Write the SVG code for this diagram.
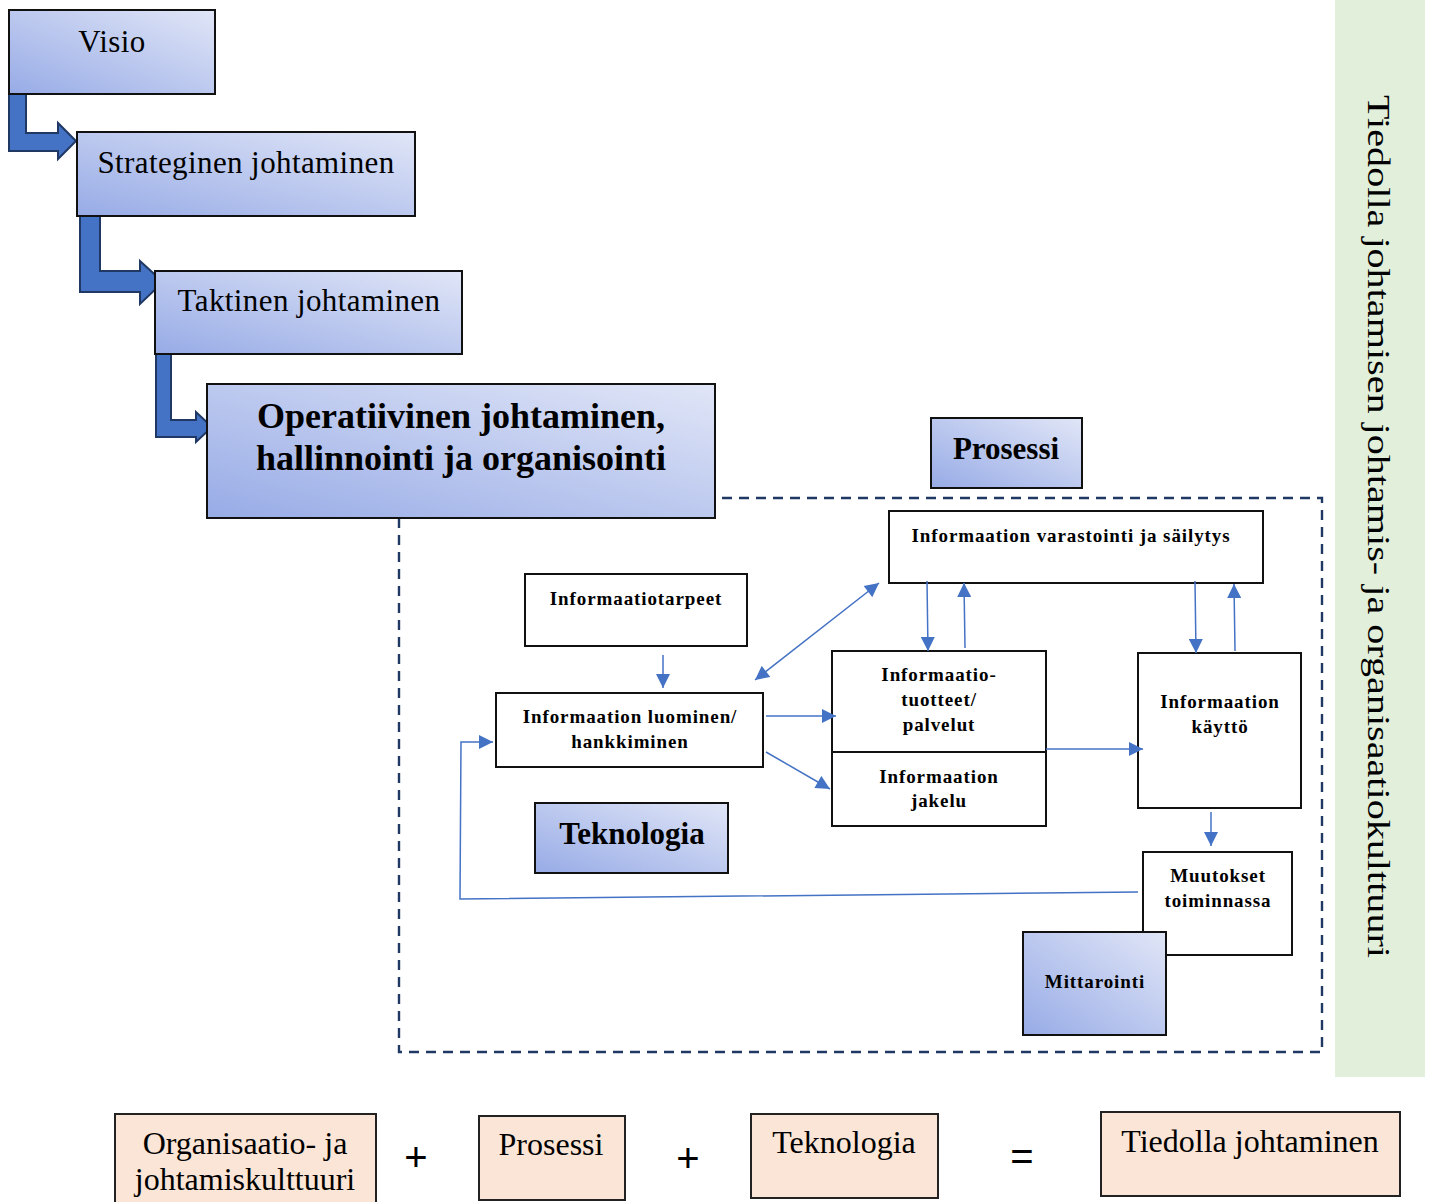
<svg xmlns="http://www.w3.org/2000/svg" width="1433" height="1202" viewBox="0 0 1433 1202">
<defs>
<linearGradient id="blueGrad" x1="0" y1="1" x2="1" y2="0">
<stop offset="0" stop-color="#97abe6"/>
<stop offset="1" stop-color="#e1e6f7"/>
</linearGradient>
<marker id="arr" viewBox="0 0 10 10" refX="10" refY="5" markerWidth="15" markerHeight="14" markerUnits="userSpaceOnUse" orient="auto-start-reverse">
<path d="M0,0 L10,5 L0,10 z" fill="#4472c4"/>
</marker>
<style>
.blue{fill:url(#blueGrad);stroke:#111;stroke-width:2}
.white{fill:#fff;stroke:#111;stroke-width:2}
.peach{fill:#fbe5d6;stroke:#222;stroke-width:2}
.bend{fill:#4472c4;stroke:#1f3864;stroke-width:2}
.t{font-family:"Liberation Serif","Times New Roman",serif;fill:#000;text-anchor:middle}
.big{font-size:31px;letter-spacing:0.4px}
.op{font-size:36px;font-weight:bold}
.lbl{font-size:31px;font-weight:bold}
.sm{font-size:19px;font-weight:bold;letter-spacing:0.9px}
.bot{font-size:32px}
.sym{font-family:"Liberation Sans",Arial,sans-serif;font-size:40px;fill:#000;text-anchor:middle}
.con{fill:none;stroke:#4472c4;stroke-width:1.5}
</style>
</defs>
<rect width="1433" height="1202" fill="#fff"/>

<!-- right culture band -->
<g id="culture">
<rect x="1335" y="0" width="90" height="1077" fill="#e2efda"/>
<text class="t" transform="translate(1368,95) rotate(90)" style="font-size:32px;text-anchor:start" textLength="863" lengthAdjust="spacingAndGlyphs">Tiedolla johtamisen johtamis- ja organisaatiokulttuuri</text>
</g>

<!-- dashed process frame -->
<g id="frame">
<rect x="399" y="498" width="923" height="554" fill="none" stroke="#1f3864" stroke-width="2.4" stroke-dasharray="10,7"/>
</g>

<!-- bent arrows -->
<g id="bends">
<path class="bend" d="M9,92 L26,92 L26,133 L58,133 L58,123 L76,141 L58,159 L58,151 L9,151 Z"/>
<path class="bend" d="M80,216 L100,216 L100,271 L140,271 L140,261 L163,282 L140,304 L140,292 L80,292 Z"/>
<path class="bend" d="M156,353 L171,353 L171,420 L196,420 L196,412 L212,427 L196,442 L196,437 L156,437 Z"/>
</g>

<g id="visio">
<rect class="blue" x="9" y="10" width="206" height="84"/>
<text class="t big" x="112" y="52">Visio</text>
</g>
<g id="strateginen">
<rect class="blue" x="77" y="132" width="338" height="84"/>
<text class="t big" x="246" y="173">Strateginen johtaminen</text>
</g>
<g id="taktinen">
<rect class="blue" x="155" y="271" width="307" height="83"/>
<text class="t big" x="309" y="311">Taktinen johtaminen</text>
</g>
<g id="operatiivinen">
<rect class="blue" x="207" y="384" width="508" height="134"/>
<text class="t op" x="461" y="428">Operatiivinen johtaminen,</text>
<text class="t op" x="461" y="470">hallinnointi ja organisointi</text>
</g>

<g id="prosessi">
<rect class="blue" x="931" y="418" width="151" height="70"/>
<text class="t lbl" x="1006" y="459">Prosessi</text>
</g>
<g id="varastointi">
<rect class="white" x="889" y="511" width="374" height="72"/>
<text class="t sm" x="1071" y="542">Informaation varastointi ja säilytys</text>
</g>
<g id="tarpeet">
<rect class="white" x="525" y="574" width="222" height="72"/>
<text class="t sm" x="636" y="605">Informaatiotarpeet</text>
</g>
<g id="luominen">
<rect class="white" x="496" y="693" width="267" height="74"/>
<text class="t sm" x="630" y="723">Informaation luominen/</text>
<text class="t sm" x="630" y="748">hankkiminen</text>
</g>
<g id="teknologia">
<rect class="blue" x="535" y="803" width="193" height="70"/>
<text class="t lbl" x="632" y="844">Teknologia</text>
</g>
<g id="tuotteet">
<rect class="white" x="832" y="651" width="214" height="101"/>
<text class="t sm" x="939" y="681">Informaatio-</text>
<text class="t sm" x="939" y="706">tuotteet/</text>
<text class="t sm" x="939" y="731">palvelut</text>
</g>
<g id="jakelu">
<rect class="white" x="832" y="752" width="214" height="74"/>
<text class="t sm" x="939" y="783">Informaation</text>
<text class="t sm" x="939" y="807">jakelu</text>
</g>
<g id="kaytto">
<rect class="white" x="1138" y="653" width="163" height="155"/>
<text class="t sm" x="1220" y="708">Informaation</text>
<text class="t sm" x="1220" y="733">käyttö</text>
</g>
<g id="muutokset">
<rect class="white" x="1143" y="852" width="149" height="103"/>
<text class="t sm" x="1218" y="882">Muutokset</text>
<text class="t sm" x="1218" y="907">toiminnassa</text>
</g>
<g id="mittarointi">
<rect class="blue" x="1023" y="932" width="143" height="103"/>
<text class="t sm" x="1095" y="988">Mittarointi</text>
</g>

<!-- connectors -->
<g id="connectors">
<line class="con" x1="663" y1="655" x2="663" y2="688" marker-end="url(#arr)"/>
<line class="con" x1="755" y1="680" x2="879" y2="583" marker-start="url(#arr)" marker-end="url(#arr)"/>
<line class="con" x1="766" y1="716" x2="836" y2="716" marker-end="url(#arr)"/>
<line class="con" x1="766" y1="752" x2="830" y2="789" marker-end="url(#arr)"/>
<line class="con" x1="927" y1="581" x2="928" y2="651" marker-end="url(#arr)"/>
<line class="con" x1="965" y1="648" x2="964" y2="583" marker-end="url(#arr)"/>
<line class="con" x1="1195" y1="581" x2="1196" y2="653" marker-end="url(#arr)"/>
<line class="con" x1="1235" y1="651" x2="1234" y2="584" marker-end="url(#arr)"/>
<line class="con" x1="1046" y1="749" x2="1143" y2="749" marker-end="url(#arr)"/>
<line class="con" x1="1211" y1="812" x2="1211" y2="846" marker-end="url(#arr)"/>
<polyline class="con" points="1138,892 460,899 461,742 493,742" marker-end="url(#arr)"/>
</g>

<!-- bottom equation -->
<g id="eq-kulttuuri">
<rect class="peach" x="115" y="1114" width="261" height="92"/>
<text class="t bot" x="245" y="1154">Organisaatio- ja</text>
<text class="t bot" x="245" y="1190">johtamiskulttuuri</text>
</g>
<text class="sym" x="416" y="1171">+</text>
<g id="eq-prosessi">
<rect class="peach" x="479" y="1116" width="146" height="84"/>
<text class="t bot" x="551" y="1155">Prosessi</text>
</g>
<text class="sym" x="688" y="1172">+</text>
<g id="eq-teknologia">
<rect class="peach" x="751" y="1114" width="187" height="84"/>
<text class="t bot" x="844" y="1153">Teknologia</text>
</g>
<text class="sym" x="1022" y="1170">=</text>
<g id="eq-tiedolla">
<rect class="peach" x="1101" y="1112" width="299" height="84"/>
<text class="t bot" x="1250" y="1152">Tiedolla johtaminen</text>
</g>
</svg>
